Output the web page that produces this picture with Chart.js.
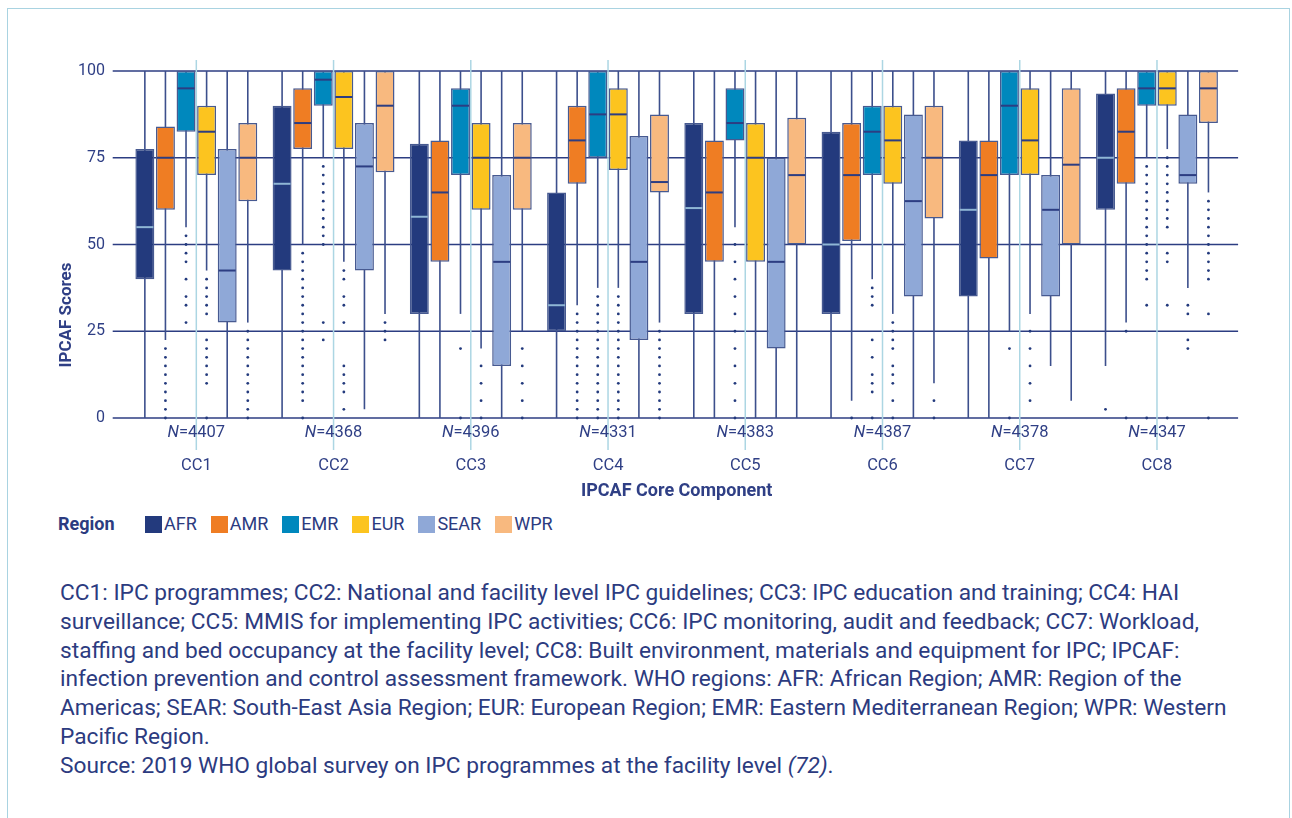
<!DOCTYPE html>
<html>
<head>
<meta charset="utf-8">
<script src="https://cdn.jsdelivr.net/npm/chart.js@4.4.1/dist/chart.umd.min.js"></script>
<style>
  body { margin: 0; background: #fff; font-family: Roboto, sans-serif; color: #2c3b80; }
  .frame { position: absolute; left: 7px; top: 8px; width: 1281px; height: 830px;
           border: 1.5px solid #a9d3e1; border-bottom: none; }
  .plot { position: absolute; left: 0; top: 0; width: 1292px; height: 505px; }
  .legend { position: absolute; left: 58px; top: 513px; display: flex; align-items: center;
            font-size: 18px; line-height: 22px; }
  .legend .title { font-weight: 700; width: 87px; }
  .legend .item { display: flex; align-items: center; margin-right: 14px; }
  .legend .swatch { width: 17px; height: 17px; margin-right: 2px; }
  .caption { position: absolute; left: 60px; top: 579px; font-size: 22.7px; line-height: 28.8px;
             white-space: nowrap; }
</style>
</head>
<body>
<div class="frame"></div>
<div class="plot"><canvas id="boxChart"></canvas></div>
<div class="legend" id="legend"></div>
<div class="caption">
  CC1: IPC programmes; CC2: National and facility level IPC guidelines; CC3: IPC education and training; CC4: HAI<br>
  surveillance; CC5: MMIS for implementing IPC activities; CC6: IPC monitoring, audit and feedback; CC7: Workload,<br>
  staffing and bed occupancy at the facility level; CC8: Built environment, materials and equipment for IPC; IPCAF:<br>
  infection prevention and control assessment framework. WHO regions: AFR: African Region; AMR: Region of the<br>
  Americas; SEAR: South-East Asia Region; EUR: European Region; EMR: Eastern Mediterranean Region; WPR: Western<br>
  Pacific Region.<br>
  Source: 2019 WHO global survey on IPC programmes at the facility level <i>(72)</i>.
</div>
<script>
// ── Data ──────────────────────────────────────
const CATEGORIES = ['CC1', 'CC2', 'CC3', 'CC4', 'CC5', 'CC6', 'CC7', 'CC8'];
const SAMPLE_SIZES = [4407, 4368, 4396, 4331, 4383, 4387, 4378, 4347];
const REGIONS = ['AFR', 'AMR', 'EMR', 'EUR', 'SEAR', 'WPR'];
const Y_TICKS = [0, 25, 50, 75, 100];

// [lower whisker, Q1, median, Q3, upper whisker] per core component
const AFR_STATS = [
  [0, 40, 55, 77.5, 100], [0, 42.5, 67.5, 90, 100], [0, 30, 58, 79, 100], [0, 25, 32.5, 65, 100],
  [0, 30, 60.5, 85, 100], [0, 30, 50, 82.5, 100], [0, 35, 60, 80, 100], [15, 60, 75, 93.5, 100]
];
const AMR_STATS = [
  [22.5, 60, 75, 84, 100], [50, 77.5, 85, 95, 100], [0, 45, 65, 80, 100], [32.5, 67.5, 80, 90, 100],
  [0, 45, 65, 80, 100], [5, 51, 70, 85, 100], [0, 46, 70, 80, 100], [27.5, 67.5, 82.5, 95, 100]
];
const EMR_STATS = [
  [55, 82.5, 95, 100, 100], [75, 90, 97.5, 100, 100], [30, 70, 90, 95, 100], [37.5, 75, 87.5, 100, 100],
  [55, 80, 85, 95, 100], [40, 70, 82.5, 90, 100], [25, 70, 90, 100, 100], [75, 90, 95, 100, 100]
];
const EUR_STATS = [
  [42.5, 70, 82.5, 90, 100], [45, 77.5, 92.5, 100, 100], [20, 60, 75, 85, 100], [37.5, 71.5, 87.5, 95, 100],
  [0, 45, 75, 85, 100], [30, 67.5, 80, 90, 100], [30, 70, 80, 95, 100], [77.5, 90, 95, 100, 100]
];
const SEAR_STATS = [
  [0, 27.5, 42.5, 77.5, 100], [2.5, 42.5, 72.5, 85, 100], [0, 15, 45, 70, 100], [0, 22.5, 45, 81.3, 100],
  [0, 20, 45, 75, 100], [0, 35, 62.5, 87.5, 100], [15, 35, 60, 70, 100], [37.5, 67.5, 70, 87.5, 100]
];
const WPR_STATS = [
  [27.5, 62.5, 75, 85, 100], [30, 70.8, 90, 100, 100], [25, 60, 75, 85, 100], [27.5, 65, 68, 87.5, 100],
  [0, 50, 70, 86.5, 100], [10, 57.5, 75, 90, 100], [5, 50, 73, 95, 100], [65, 85, 95, 100, 100]
];

// outlying facility scores per core component
const AFR_OUTLIERS = [[], [], [], [], [], [], [], [2.5]];
const AMR_OUTLIERS = [
  [20, 17.5, 15, 12.5, 10, 7.5, 5, 2.5, 0],
  [47.5, 45, 42.5, 40, 37.5, 35, 32.5, 30, 27.5, 25, 22.5, 20, 17.5, 15, 12.5, 10, 7.5, 5, 0],
  [],
  [30, 27.5, 25, 22.5, 20, 17.5, 15, 12.5, 10, 7.5, 5, 2.5, 0],
  [],
  [0],
  [],
  [25, 0]
];
const EMR_OUTLIERS = [
  [52.5, 50, 47.5, 45, 40, 35, 32.5, 27.5],
  [72.5, 70, 67.5, 65, 62.5, 60, 57.5, 55, 52.5, 50, 27.5, 22.5],
  [20, 0],
  [35, 32.5, 30, 27.5, 25, 22.5, 20, 17.5, 15, 12.5, 10, 7.5, 5, 2.5, 0],
  [50, 45, 40, 35, 30, 25, 20, 15, 10, 5, 0],
  [37.5, 35, 32.5, 22.5, 17.5, 12.5, 10, 7.5, 0],
  [20, 0],
  [72.5, 70, 67.5, 65, 62.5, 60, 57.5, 55, 52.5, 50, 47.5, 45, 42.5, 40, 32.5, 0]
];
const EUR_OUTLIERS = [
  [40, 37.5, 35, 32.5, 30, 22.5, 20, 17.5, 15, 12.5, 10, 0],
  [42.5, 40, 35, 32.5, 27.5, 15, 12.5, 10, 7.5, 2.5],
  [15, 10, 5, 0],
  [35, 32.5, 30, 27.5, 25, 22.5, 20, 17.5, 15, 12.5, 10, 7.5, 5, 2.5, 0],
  [],
  [27.5, 25, 22.5, 20, 15, 12.5, 10, 5, 0],
  [25, 20, 15, 10, 5],
  [75, 72.5, 70, 67.5, 65, 62.5, 60, 57.5, 55, 47.5, 45, 32.5, 0]
];
const SEAR_OUTLIERS = [[], [], [], [], [], [], [], [32.5, 30, 22.5, 20]];
const WPR_OUTLIERS = [
  [25, 22.5, 20, 17.5, 15, 12.5, 10, 7.5, 5, 2.5, 0],
  [27.5, 25, 22.5],
  [20, 15, 10, 5, 0],
  [25, 22.5, 20, 17.5, 15, 12.5, 10, 7.5, 5, 2.5, 0],
  [],
  [5, 0],
  [],
  [62.5, 60, 57.5, 55, 52.5, 50, 47.5, 45, 42.5, 40, 30, 0]
];

const STATS = [AFR_STATS, AMR_STATS, EMR_STATS, EUR_STATS, SEAR_STATS, WPR_STATS];
const OUTLIERS = [AFR_OUTLIERS, AMR_OUTLIERS, EMR_OUTLIERS, EUR_OUTLIERS, SEAR_OUTLIERS, WPR_OUTLIERS];

// ── Styles ────────────────────────────────────
const REGION_COLORS = ['#233a7d', '#ef7d23', '#0088bd', '#fcc41f', '#8fa8d7', '#f8b97f'];
const NAVY = '#2c3d82';
const TEXT = '#2f3f85';
const FONT = 'Roboto, sans-serif';

// ── Legend ────────────────────────────────────
(function () {
  const el = document.getElementById('legend');
  el.innerHTML = '<span class="title">Region</span>' + REGIONS.map((r, i) =>
    `<span class="item"><span class="swatch" style="background:${REGION_COLORS[i]}"></span>${r}</span>`
  ).join('');
})();

// ── Box-plot drawing on top of floating bars ──
const boxPlot = {
  id: 'boxPlot',
  beforeDatasetsDraw(chart) {
    const { ctx, chartArea: a, scales: { x, y } } = chart;
    ctx.save();

    // horizontal rules, running a little past the plot on both sides
    ctx.strokeStyle = NAVY;
    ctx.lineWidth = 1.5;
    Y_TICKS.forEach(v => {
      const py = y.getPixelForValue(v);
      ctx.beginPath();
      ctx.moveTo(a.left - 15, py);
      ctx.lineTo(a.right + 12.5, py);
      ctx.stroke();
    });

    // pale marker at each category centre
    ctx.strokeStyle = '#acd6e3';
    ctx.lineWidth = 1.5;
    CATEGORIES.forEach((c, i) => {
      const px = x.getPixelForValue(i);
      ctx.beginPath();
      ctx.moveTo(px, a.top - 11);
      ctx.lineTo(px, a.bottom + 32);
      ctx.stroke();
    });

    // whiskers
    ctx.strokeStyle = '#3c4f8c';
    ctx.lineWidth = 1.6;
    chart.data.datasets.forEach((ds, di) => {
      chart.getDatasetMeta(di).data.forEach((bar, j) => {
        const s = STATS[di][j];
        ctx.beginPath();
        ctx.moveTo(bar.x, y.getPixelForValue(s[0]));
        ctx.lineTo(bar.x, y.getPixelForValue(s[4]));
        ctx.stroke();
      });
    });
    ctx.restore();
  },
  afterDatasetsDraw(chart) {
    const { ctx, scales: { y } } = chart;
    ctx.save();
    chart.data.datasets.forEach((ds, di) => {
      chart.getDatasetMeta(di).data.forEach((bar, j) => {
        const half = bar.width / 2 - 1;
        const my = y.getPixelForValue(STATS[di][j][2]);
        ctx.strokeStyle = di === 0 ? '#8fb6d5' : NAVY;
        ctx.lineWidth = 2;
        ctx.beginPath();
        ctx.moveTo(bar.x - half, my);
        ctx.lineTo(bar.x + half, my);
        ctx.stroke();

        ctx.fillStyle = '#233a7d';
        OUTLIERS[di][j].forEach(v => {
          ctx.beginPath();
          ctx.arc(bar.x, y.getPixelForValue(v), 1.4, 0, Math.PI * 2);
          ctx.fill();
        });
      });
    });
    ctx.restore();
  },
  afterDraw(chart) {
    const { ctx, chartArea: a, scales: { x } } = chart;
    ctx.save();
    ctx.fillStyle = TEXT;
    ctx.textBaseline = 'middle';

    // sample size under each component, with an italic N
    SAMPLE_SIZES.forEach((n, i) => {
      const px = x.getPixelForValue(i);
      const rest = '=' + n;
      ctx.font = `italic 16.5px ${FONT}`;
      const wN = ctx.measureText('N').width;
      ctx.font = `16.5px ${FONT}`;
      const wR = ctx.measureText(rest).width;
      const start = px - (wN + wR) / 2;
      ctx.textAlign = 'left';
      ctx.font = `italic 16.5px ${FONT}`;
      ctx.fillText('N', start, a.bottom + 14.5);
      ctx.font = `16.5px ${FONT}`;
      ctx.fillText(rest, start + wN, a.bottom + 14.5);
    });

    // vertical axis title
    ctx.translate(66.5, 315);
    ctx.rotate(-Math.PI / 2);
    ctx.textAlign = 'center';
    ctx.font = `bold 17px ${FONT}`;
    ctx.fillText('IPCAF Scores', 0, 0);
    ctx.restore();
  }
};

// ── Chart ─────────────────────────────────────
new Chart(document.getElementById('boxChart'), {
  type: 'bar',
  data: {
    labels: CATEGORIES,
    datasets: REGIONS.map((name, i) => ({
      label: name,
      data: STATS[i].map(s => [s[1], s[3]]),
      backgroundColor: REGION_COLORS[i],
      borderColor: '#475a91',
      borderWidth: 1.5,
      borderSkipped: false,
      categoryPercentage: 0.9,
      barPercentage: 0.92
    }))
  },
  options: {
    responsive: true,
    maintainAspectRatio: false,
    animation: false,
    layout: { padding: { top: 71, right: 66.4, bottom: 0, left: 0 } },
    plugins: { legend: { display: false }, tooltip: { enabled: false } },
    scales: {
      x: {
        offset: true,
        grid: { display: false, drawTicks: false },
        border: { display: false },
        ticks: { color: TEXT, font: { family: FONT, size: 16.5 }, padding: 38 },
        title: {
          display: true,
          text: 'IPCAF Core Component',
          color: TEXT,
          font: { family: FONT, size: 18, weight: 'bold' },
          padding: { top: 0, bottom: 3 }
        },
        afterFit: s => { s.height = 87; }
      },
      y: {
        min: 0,
        max: 100,
        grid: { display: false, drawTicks: false },
        border: { display: false },
        ticks: {
          stepSize: 25,
          color: TEXT,
          font: { family: FONT, size: 16 },
          padding: 22.7
        },
        afterFit: s => { s.width = 127.7; }
      }
    }
  },
  plugins: [boxPlot]
});
</script>
</body>
</html>
